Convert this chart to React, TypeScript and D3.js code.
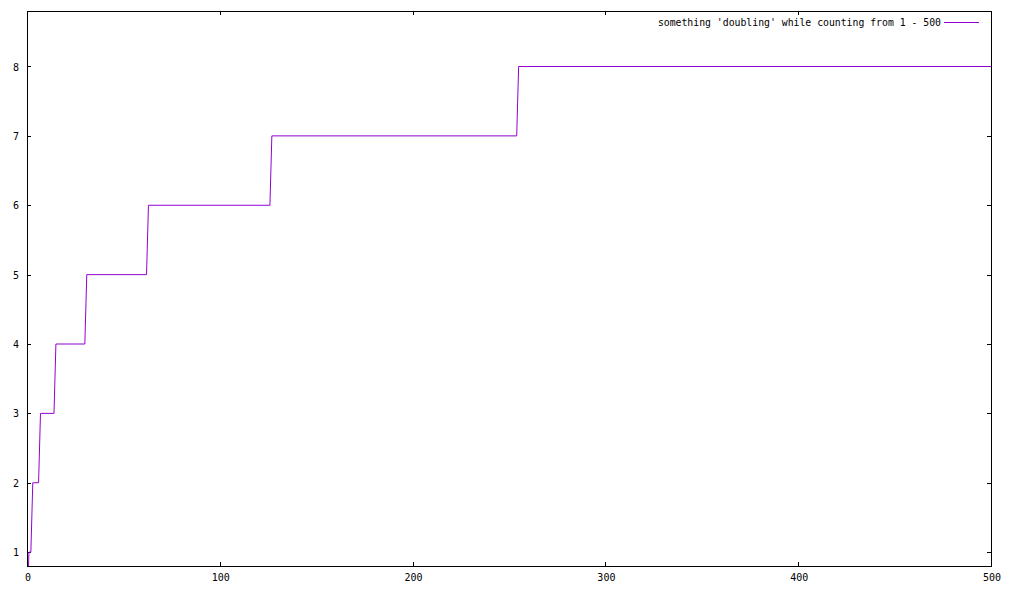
import React from "react";
import * as d3 from "d3";

// Corner points of the step series (x = count index, y = doublings so far)
const seriesX = [0, 1, 2, 3, 6, 7, 14, 15, 30, 31, 62, 63, 126, 127, 254, 255, 500];
const seriesY = [0, 1, 1, 2, 2, 3, 3, 4, 4, 5, 5, 6, 6, 7, 7, 8, 8];
const xTicks = [0, 100, 200, 300, 400, 500];
const yTicks = [1, 2, 3, 4, 5, 6, 7, 8];
const legendLabel = "something 'doubling' while counting from 1 - 500";

const W = 1009;
const H = 592;
const left = 27, right = 991, top = 11, bottom = 566;
const color = "#9400d3";
const font = "'DejaVu Sans Mono', monospace";

export default function App() {
  const x = d3.scaleLinear().domain([0, 500]).range([left, right]);
  const y = d3.scaleLinear().domain([0.8, 8.8]).range([bottom, top]);
  const pts: [number, number][] = seriesX.map((v, i) => [v, seriesY[i]]);
  const line = d3.line<[number, number]>().x(d => x(d[0])).y(d => y(d[1]));
  const tick = 4;
  return (
    <svg width={W} height={H} style={{ position: "absolute", left: 0, top: 0, background: "#fff" }}>
      <defs>
        <clipPath id="plot">
          <rect x={left} y={top} width={right - left} height={bottom - top} />
        </clipPath>
      </defs>
      <rect x={0} y={0} width={W} height={H} fill="#fff" />
      <g shapeRendering="crispEdges" stroke="#000" strokeWidth={1}>
        {xTicks.map(t => (
          <g key={"x" + t}>
            <line x1={Math.round(x(t)) + 0.5} x2={Math.round(x(t)) + 0.5} y1={bottom} y2={bottom - tick} />
            <line x1={Math.round(x(t)) + 0.5} x2={Math.round(x(t)) + 0.5} y1={top} y2={top + tick} />
          </g>
        ))}
        {yTicks.map(t => (
          <g key={"y" + t}>
            <line x1={left} x2={left + tick} y1={Math.round(y(t)) + 0.5} y2={Math.round(y(t)) + 0.5} />
            <line x1={right} x2={right - tick} y1={Math.round(y(t)) + 0.5} y2={Math.round(y(t)) + 0.5} />
          </g>
        ))}
        <rect x={left + 0.5} y={top + 0.5} width={right - left} height={bottom - top} fill="none" />
      </g>
      <g fontFamily={font} fontSize={10} fill="#000">
        {xTicks.map(t => (
          <text key={"xl" + t} x={x(t) + 1} y={581} textAnchor="middle">{t}</text>
        ))}
        {yTicks.map(t => (
          <text key={"yl" + t} x={19} y={y(t) + 4} textAnchor="end">{t}</text>
        ))}
        <text x={941} y={26} textAnchor="end" fontSize={9.8}>{legendLabel}</text>
      </g>
      <line x1={944} x2={979} y1={22.5} y2={22.5} stroke={color} strokeWidth={1} shapeRendering="crispEdges" />
      <path d={line(pts) || ""} fill="none" stroke={color} strokeWidth={1} clipPath="url(#plot)" />
    </svg>
  );
}
